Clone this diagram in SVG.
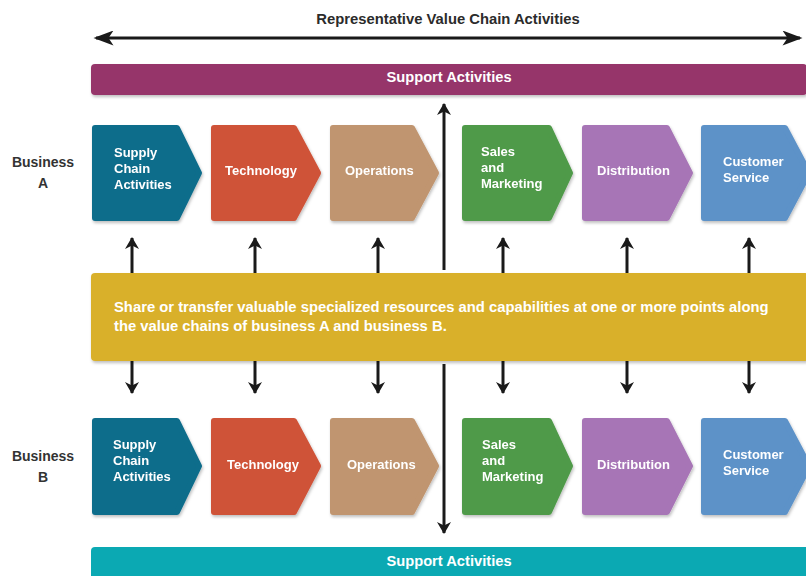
<svg xmlns="http://www.w3.org/2000/svg" width="806" height="576" viewBox="0 0 806 576">
  <style>
    .lbl { font-family: "Liberation Sans", Arial, sans-serif; font-weight: bold; }
    .hdr { font-size: 14.8px; fill: #2b2b2b; }
    .biz { font-size: 14px; fill: #333333; text-anchor: middle; }
    .bar { font-size: 14.7px; fill: #ffffff; text-anchor: middle; }
    .box { font-size: 13px; fill: #ffffff; }
    .band { font-size: 14.8px; fill: #ffffff; }
    .conn { stroke: #1a1a1a; stroke-width: 3; fill: none; }
    .chev { stroke-linejoin: round; stroke-width: 6; }
  </style>
  <defs>
    <filter id="shadow" x="-10%" y="-10%" width="130%" height="140%">
      <feDropShadow dx="1" dy="2" stdDeviation="1.5" flood-color="#000" flood-opacity="0.25"/>
    </filter>
    <marker id="head" viewBox="0 0 12 14" refX="11" refY="7" markerWidth="12" markerHeight="14" markerUnits="userSpaceOnUse" orient="auto-start-reverse">
      <path d="M0,0 L12,7 L0,14 L3.5,7 Z" fill="#1a1a1a"/>
    </marker>
    <marker id="headBig" viewBox="0 0 16 12" refX="14" refY="6" markerWidth="21" markerHeight="15" markerUnits="userSpaceOnUse" orient="auto-start-reverse">
      <path d="M0,0 L16,6 L0,12 L4,6 Z" fill="#1a1a1a"/>
    </marker>
  </defs>

  <rect width="806" height="576" fill="#ffffff"/>

  <!-- heading with the span arrow -->
  <g id="heading">
    <text class="lbl hdr" x="448" y="24" text-anchor="middle">Representative Value Chain Activities</text>
  </g>

  <!-- connectors -->
  <g id="connectors">
    <line class="conn" x1="96" y1="38" x2="800" y2="38" marker-start="url(#headBig)" marker-end="url(#headBig)"/>
    <line class="conn" x1="444" y1="270" x2="444" y2="104" marker-end="url(#head)"/>
    <line class="conn" x1="444" y1="364" x2="444" y2="533" marker-end="url(#head)"/>
    <g id="links-up">
      <line class="conn" x1="132" y1="274" x2="132" y2="238" marker-end="url(#head)"/>
      <line class="conn" x1="255" y1="274" x2="255" y2="238" marker-end="url(#head)"/>
      <line class="conn" x1="378" y1="274" x2="378" y2="238" marker-end="url(#head)"/>
      <line class="conn" x1="503" y1="274" x2="503" y2="238" marker-end="url(#head)"/>
      <line class="conn" x1="627" y1="274" x2="627" y2="238" marker-end="url(#head)"/>
      <line class="conn" x1="749" y1="274" x2="749" y2="238" marker-end="url(#head)"/>
    </g>
    <g id="links-down">
      <line class="conn" x1="132" y1="360" x2="132" y2="393" marker-end="url(#head)"/>
      <line class="conn" x1="255" y1="360" x2="255" y2="393" marker-end="url(#head)"/>
      <line class="conn" x1="378" y1="360" x2="378" y2="393" marker-end="url(#head)"/>
      <line class="conn" x1="503" y1="360" x2="503" y2="393" marker-end="url(#head)"/>
      <line class="conn" x1="627" y1="360" x2="627" y2="393" marker-end="url(#head)"/>
      <line class="conn" x1="749" y1="360" x2="749" y2="393" marker-end="url(#head)"/>
    </g>
  </g>

  <!-- support bar, business A -->
  <g id="support-a">
    <rect x="91" y="64" width="716" height="31" rx="4" fill="#96346a" filter="url(#shadow)"/>
    <text class="lbl bar" x="449" y="82">Support Activities</text>
  </g>

  <g id="label-a">
    <text class="lbl biz" x="43" y="167">Business</text>
    <text class="lbl biz" x="43" y="188">A</text>
  </g>

  <!-- value chain, business A -->
  <g id="a-supply" filter="url(#shadow)">
    <polygon class="chev" points="95,128 177,128 199,173 177,218 95,218" fill="#116d8b" stroke="#116d8b"/>
    <text class="lbl box" x="114" y="157">Supply</text>
    <text class="lbl box" x="114" y="173">Chain</text>
    <text class="lbl box" x="114" y="189">Activities</text>
  </g>
  <g id="a-technology" filter="url(#shadow)">
    <polygon class="chev" points="214,128 294,128 318,173 294,218 214,218" fill="#cf5339" stroke="#cf5339"/>
    <text class="lbl box" x="225" y="175">Technology</text>
  </g>
  <g id="a-operations" filter="url(#shadow)">
    <polygon class="chev" points="333,128 412,128 436,173 412,218 333,218" fill="#c0956f" stroke="#c0956f"/>
    <text class="lbl box" x="345" y="175">Operations</text>
  </g>
  <g id="a-sales" filter="url(#shadow)">
    <polygon class="chev" points="465,128 549,128 570,173 549,218 465,218" fill="#509a49" stroke="#509a49"/>
    <text class="lbl box" x="481" y="156">Sales</text>
    <text class="lbl box" x="481" y="172">and</text>
    <text class="lbl box" x="481" y="188">Marketing</text>
  </g>
  <g id="a-distribution" filter="url(#shadow)">
    <polygon class="chev" points="585,128 667,128 690,173 667,218 585,218" fill="#a775b6" stroke="#a775b6"/>
    <text class="lbl box" x="597" y="175">Distribution</text>
  </g>
  <g id="a-service" filter="url(#shadow)">
    <polygon class="chev" points="704,128 785,128 809,173 785,218 704,218" fill="#5d92c8" stroke="#5d92c8"/>
    <text class="lbl box" x="723" y="166">Customer</text>
    <text class="lbl box" x="723" y="182">Service</text>
  </g>

  <!-- shared resources band -->
  <g id="share-band">
    <rect x="91" y="273" width="718" height="88" rx="4" fill="#d9b02b" filter="url(#shadow)"/>
    <text class="lbl band" x="114" y="312">Share or transfer valuable specialized resources and capabilities at one or more points along</text>
    <text class="lbl band" x="114" y="331">the value chains of business A and business B.</text>
  </g>

  <g id="label-b">
    <text class="lbl biz" x="43" y="461">Business</text>
    <text class="lbl biz" x="43" y="482">B</text>
  </g>

  <!-- value chain, business B -->
  <g id="b-supply" filter="url(#shadow)">
    <polygon class="chev" points="95,421 177,421 199,466 177,512 95,512" fill="#116d8b" stroke="#116d8b"/>
    <text class="lbl box" x="113" y="449">Supply</text>
    <text class="lbl box" x="113" y="465">Chain</text>
    <text class="lbl box" x="113" y="481">Activities</text>
  </g>
  <g id="b-technology" filter="url(#shadow)">
    <polygon class="chev" points="214,421 294,421 318,466 294,512 214,512" fill="#cf5339" stroke="#cf5339"/>
    <text class="lbl box" x="227" y="469">Technology</text>
  </g>
  <g id="b-operations" filter="url(#shadow)">
    <polygon class="chev" points="333,421 412,421 436,466 412,512 333,512" fill="#c0956f" stroke="#c0956f"/>
    <text class="lbl box" x="347" y="469">Operations</text>
  </g>
  <g id="b-sales" filter="url(#shadow)">
    <polygon class="chev" points="465,421 549,421 570,466 549,512 465,512" fill="#509a49" stroke="#509a49"/>
    <text class="lbl box" x="482" y="449">Sales</text>
    <text class="lbl box" x="482" y="465">and</text>
    <text class="lbl box" x="482" y="481">Marketing</text>
  </g>
  <g id="b-distribution" filter="url(#shadow)">
    <polygon class="chev" points="585,421 667,421 690,466 667,512 585,512" fill="#a775b6" stroke="#a775b6"/>
    <text class="lbl box" x="597" y="469">Distribution</text>
  </g>
  <g id="b-service" filter="url(#shadow)">
    <polygon class="chev" points="704,421 785,421 809,466 785,512 704,512" fill="#5d92c8" stroke="#5d92c8"/>
    <text class="lbl box" x="723" y="459">Customer</text>
    <text class="lbl box" x="723" y="475">Service</text>
  </g>

  <!-- support bar, business B -->
  <g id="support-b">
    <rect x="91" y="547" width="718" height="40" rx="4" fill="#0ba9b3"/>
    <text class="lbl bar" x="449" y="566">Support Activities</text>
  </g>
</svg>
